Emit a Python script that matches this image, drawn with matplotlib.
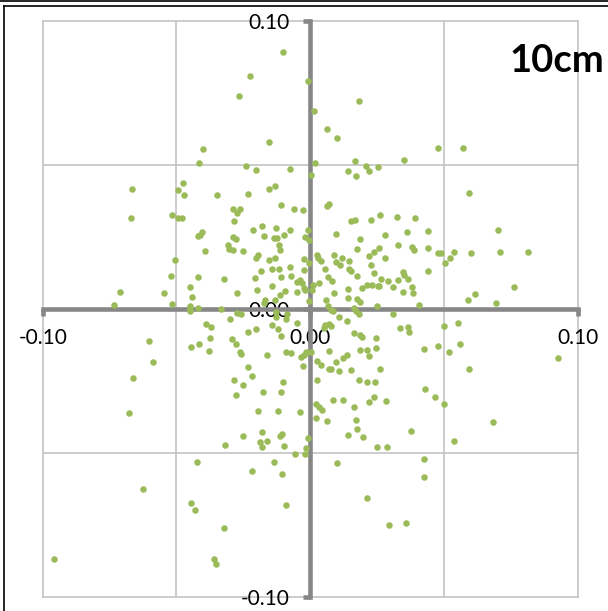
import matplotlib
matplotlib.use("Agg")
import matplotlib.pyplot as plt
from matplotlib.lines import Line2D

# ---- data ----
x_vals = [
    -0.0400, -0.0415, -0.0477, -0.0668, -0.0493, -0.0470, -0.0102, -0.0224, -0.0007, -0.0265,
    0.0182, 0.0016, 0.0061, 0.0100, -0.0153, -0.0240, -0.0202, -0.0074, 0.0019, 0.0003,
    0.0169, 0.0143, 0.0172, 0.0210, 0.0218, 0.0253, 0.0351, -0.0349, -0.0232, -0.0153,
    -0.0131, 0.0061, 0.0070, -0.0288, -0.0264, -0.0274, -0.0110, -0.0059, -0.0027, 0.0477,
    0.0573, 0.0593, -0.0670, -0.0517, -0.0495, -0.0481, -0.0420, -0.0411, -0.0404, -0.0392,
    -0.0505, -0.0521, -0.0418, -0.0710, -0.0548, -0.0449, -0.0441, -0.0733, -0.0517, -0.0449,
    -0.0451, -0.0449, -0.0420, -0.0390, -0.0371, -0.0374, -0.0603, -0.0447, -0.0414, -0.0380,
    -0.0587, -0.0664, 0.0262, 0.0324, 0.0152, 0.0169, 0.0227, -0.0284, -0.0212, -0.0181,
    -0.0128, -0.0075, -0.0010, -0.0289, -0.0277, -0.0171, -0.0135, -0.0124, -0.0097, -0.0019,
    -0.0004, 0.0095, 0.0186, 0.0278, -0.0309, -0.0303, -0.0290, -0.0252, -0.0117, -0.0113,
    0.0175, 0.0258, 0.0239, 0.0330, -0.0202, -0.0196, -0.0154, -0.0131, -0.0022, 0.0025,
    0.0029, 0.0041, 0.0089, 0.0118, 0.0097, 0.0111, 0.0146, 0.0218, 0.0278, -0.0003,
    0.0227, -0.0183, -0.0142, -0.0077, -0.0024, -0.0116, 0.0057, 0.0146, 0.0152, 0.0175,
    0.0240, 0.0347, 0.0350, -0.0323, -0.0207, -0.0108, -0.0070, 0.0068, 0.0081, -0.0049,
    -0.0040, -0.0031, 0.0034, 0.0010, 0.0264, 0.0290, 0.0328, -0.0143, -0.0025, -0.0020,
    0.0006, 0.0192, 0.0214, 0.0231, 0.0252, 0.0259, 0.0311, -0.0199, -0.0093, -0.0272,
    -0.0112, -0.0049, 0.0089, 0.0143, 0.0348, -0.0168, -0.0132, -0.0173, -0.0004, 0.0060,
    0.0143, 0.0176, 0.0187, -0.0333, 0.0066, 0.0079, 0.0085, 0.0163, 0.0171, 0.0181,
    0.0250, -0.0272, -0.0257, -0.0128, -0.0126, -0.0085, -0.0091, -0.0051, 0.0106, 0.0136,
    0.0309, -0.0299, -0.0203, -0.0233, 0.0057, 0.0072, 0.0079, 0.0053, -0.0121, -0.0143,
    0.0163, 0.0188, 0.0193, 0.0336, -0.0294, -0.0108, -0.0277, 0.0246, -0.0262, -0.0258,
    -0.0161, -0.0090, -0.0071, -0.0016, 0.0003, -0.0025, -0.0035, 0.0071, 0.0188, 0.0213,
    0.0246, 0.0139, 0.0221, 0.0122, 0.0097, 0.0027, 0.0042, 0.0070, 0.0079, 0.0107,
    0.0152, -0.0027, -0.0231, 0.0262, -0.0217, -0.0284, -0.0252, -0.0100, 0.0027, 0.0184,
    0.0214, 0.0242, -0.0276, -0.0175, -0.0108, 0.0085, 0.0122, 0.0240, 0.0284, 0.0218,
    0.0022, 0.0390, 0.0361, 0.0440, 0.0703, 0.0382, 0.0389, 0.0442, 0.0478, 0.0489,
    0.0536, 0.0523, 0.0601, 0.0711, 0.0815, 0.0504, 0.0440, 0.0366, 0.0379, 0.0386,
    0.0763, 0.0616, 0.0591, 0.0696, 0.0407, 0.0367, 0.0370, 0.0502, 0.0552, 0.0478,
    0.0425, 0.0518, 0.0560, 0.0928, 0.0594, 0.0430, 0.0465, 0.0500, -0.0677, -0.0424,
    -0.0624, -0.0446, -0.0429, -0.0956, 0.0033, 0.0044, 0.0164, -0.0197, -0.0122, -0.0040,
    0.0021, 0.0064, 0.0171, 0.0176, 0.0141, 0.0197, -0.0253, -0.0182, -0.0188, -0.0182,
    -0.0160, -0.0112, -0.0104, -0.0097, -0.0007, -0.0318, -0.0016, -0.0057, -0.0019, 0.0250,
    0.0287, -0.0137, 0.0100, -0.0217, -0.0105, 0.0212, -0.0090, -0.0321, 0.0296, 0.0358,
    -0.0358, -0.0351, 0.0682, 0.0375, 0.0537, 0.0424, 0.0426,
]
y_vals = [
    0.0555, 0.0509, 0.0438, 0.0417, 0.0415, 0.0397, 0.0892, 0.0811, 0.0791, 0.0739,
    0.0723, 0.0688, 0.0624, 0.0594, 0.0582, 0.0498, 0.0483, 0.0488, 0.0508, 0.0467,
    0.0515, 0.0480, 0.0463, 0.0498, 0.0480, 0.0494, 0.0517, 0.0397, 0.0398, 0.0416,
    0.0428, 0.0358, 0.0365, 0.0349, 0.0349, 0.0335, 0.0360, 0.0349, 0.0343, 0.0560,
    0.0561, 0.0404, 0.0315, 0.0328, 0.0315, 0.0315, 0.0252, 0.0257, 0.0266, 0.0202,
    0.0171, 0.0116, 0.0110, 0.0059, 0.0056, 0.0075, 0.0043, 0.0015, 0.0019, 0.0009,
    0.0000, -0.0008, 0.0002, -0.0052, -0.0063, -0.0100, -0.0110, -0.0131, -0.0123, -0.0145,
    -0.0183, -0.0239, 0.0325, 0.0321, 0.0306, 0.0311, 0.0309, 0.0307, 0.0275, 0.0290,
    0.0280, 0.0275, 0.0275, 0.0251, 0.0242, 0.0252, 0.0247, 0.0247, 0.0257, 0.0251,
    0.0241, 0.0259, 0.0242, 0.0257, 0.0224, 0.0209, 0.0206, 0.0203, 0.0224, 0.0206,
    0.0209, 0.0213, 0.0198, 0.0221, 0.0179, 0.0186, 0.0171, 0.0176, 0.0174, 0.0189,
    0.0179, 0.0167, 0.0186, 0.0178, 0.0163, 0.0154, 0.0168, 0.0185, 0.0176, 0.0161,
    0.0153, 0.0133, 0.0138, 0.0146, 0.0137, 0.0138, 0.0139, 0.0139, 0.0133, 0.0116,
    0.0126, 0.0127, 0.0119, 0.0104, 0.0108, 0.0112, 0.0113, 0.0110, 0.0098, 0.0094,
    0.0101, 0.0089, 0.0090, 0.0084, 0.0104, 0.0098, 0.0102, 0.0080, 0.0073, 0.0065,
    0.0067, 0.0073, 0.0084, 0.0083, 0.0079, 0.0080, 0.0076, 0.0067, 0.0061, 0.0057,
    0.0050, 0.0059, 0.0057, 0.0068, 0.0060, 0.0031, 0.0031, 0.0022, 0.0028, 0.0030,
    0.0037, 0.0036, 0.0026, -0.0001, 0.0009, -0.0003, -0.0008, 0.0002, -0.0008, -0.0017,
    0.0009, -0.0015, -0.0019, -0.0010, -0.0028, -0.0017, -0.0035, -0.0047, -0.0027, -0.0041,
    -0.0019, -0.0036, -0.0068, -0.0079, -0.0055, -0.0052, -0.0060, -0.0066, -0.0068, -0.0057,
    -0.0082, -0.0092, -0.0097, -0.0065, -0.0106, -0.0095, -0.0123, -0.0101, -0.0148, -0.0155,
    -0.0159, -0.0151, -0.0153, -0.0148, -0.0151, -0.0159, -0.0168, -0.0146, -0.0143, -0.0144,
    -0.0137, -0.0160, -0.0163, -0.0172, -0.0183, -0.0181, -0.0196, -0.0210, -0.0208, -0.0214,
    -0.0212, -0.0198, -0.0202, -0.0208, -0.0232, -0.0248, -0.0264, -0.0252, -0.0247, -0.0248,
    -0.0252, -0.0252, -0.0298, -0.0287, -0.0289, -0.0315, -0.0315, -0.0307, -0.0320, -0.0323,
    -0.0330, 0.0317, 0.0269, 0.0270, 0.0275, 0.0214, 0.0204, 0.0211, 0.0196, 0.0193,
    0.0198, 0.0179, 0.0193, 0.0199, 0.0198, 0.0159, 0.0133, 0.0104, 0.0078, 0.0057,
    0.0076, 0.0052, 0.0032, 0.0022, 0.0013, -0.0064, -0.0079, -0.0059, -0.0049, -0.0130,
    -0.0140, -0.0151, -0.0121, -0.0172, -0.0210, -0.0278, -0.0305, -0.0330, -0.0360, -0.0532,
    -0.0626, -0.0673, -0.0697, -0.0869, -0.0341, -0.0351, -0.0340, -0.0356, -0.0353, -0.0358,
    -0.0379, -0.0391, -0.0387, -0.0417, -0.0439, -0.0446, -0.0441, -0.0428, -0.0461, -0.0480,
    -0.0459, -0.0443, -0.0433, -0.0475, -0.0448, -0.0474, -0.0483, -0.0503, -0.0505, -0.0478,
    -0.0478, -0.0531, -0.0535, -0.0563, -0.0575, -0.0657, -0.0681, -0.0761, -0.0751, -0.0745,
    -0.0868, -0.0888, -0.0394, -0.0423, -0.0458, -0.0520, -0.0584,
]
major_ticks = [-0.10, 0.00, 0.10]
minor_ticks = [-0.05, 0.05]
tick_labels = ["-0.10", "0.00", "0.10"]
title_text = "10cm"

# ---- figure ----
W, H = 608, 611
fig = plt.figure(figsize=(W / 100, H / 100), dpi=100)
plt.rcParams['font.family'] = ['Lato', 'DejaVu Sans']
ax = fig.add_axes([42.7 / W, 14.3 / H, 535.0 / W, 575.4 / H])
ax.set_xlim(-0.1, 0.1)
ax.set_ylim(-0.1, 0.1)

ax.plot(x_vals, y_vals, linestyle='none', marker='o', markersize=4.7,
        color='#9BBB59', markeredgewidth=0, zorder=4, clip_on=False)

axis_col = '#878787'
for s in ['top', 'right']:
    ax.spines[s].set_visible(False)
ax.spines['left'].set_position('zero')
ax.spines['bottom'].set_position('zero')
for s in ['left', 'bottom']:
    ax.spines[s].set_color(axis_col)
    ax.spines[s].set_linewidth(3.3)
    ax.spines[s].set_zorder(3)

ax.set_xticks(major_ticks)
ax.set_yticks(major_ticks)
ax.set_xticklabels(tick_labels)
ax.set_yticklabels(tick_labels)
ax.set_xticks(minor_ticks, minor=True)
ax.set_yticks(minor_ticks, minor=True)
ax.tick_params(which='major', direction='out', length=5, width=3.3,
               color=axis_col, labelsize=15, labelcolor='black')
ax.tick_params(axis='x', which='major', pad=9)
ax.tick_params(axis='y', which='major', pad=10)
ax.tick_params(which='minor', length=0)
ax.grid(True, which='both', color='#BFBFBF', linewidth=1.1, zorder=0)
ax.set_axisbelow(True)
for gl in ax.get_xgridlines() + ax.get_ygridlines():
    gl.set_clip_on(False)

fig.text(509 / W, 1 - 72 / H, title_text, ha='left', va='baseline',
         fontsize=27.5, fontweight='bold', color='black')

# outer frame lines
fig.add_artist(Line2D([0, 1], [1 - 0.5 / H, 1 - 0.5 / H], transform=fig.transFigure,
                      color='black', linewidth=1.2))
fig.add_artist(Line2D([3.5 / W, 1], [1 - 6 / H, 1 - 6 / H], transform=fig.transFigure,
                      color='black', linewidth=1.2))
fig.add_artist(Line2D([3.5 / W, 3.5 / W], [0, 1 - 6 / H], transform=fig.transFigure,
                      color='black', linewidth=1.2))

fig.savefig('out.png', dpi=100)
